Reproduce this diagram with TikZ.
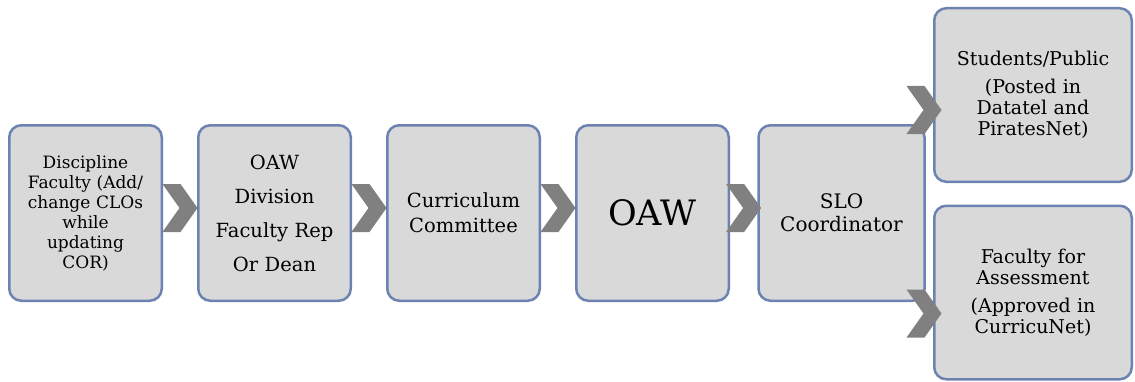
\documentclass[tikz,border=0pt]{standalone}
\usepackage{fontspec}
\setmainfont{DejaVu Serif}
\usetikzlibrary{positioning,decorations.markings}
\definecolor{boxfill}{RGB}{217,217,217}
\definecolor{boxline}{RGB}{108,131,178}
\definecolor{chevgray}{RGB}{128,128,128}
\tikzset{chevron/.style={decoration={
  markings,
  mark= at position #1 with {\fill[chevgray] (-17.5pt,24pt) -- (0.5pt,24pt) -- (17.5pt,0pt) -- (0.5pt,-24pt) -- (-17.5pt,-24pt) -- (-0.5pt,0pt) -- cycle;}},postaction={decorate}}
}

\begin{document}
\begin{tikzpicture}[
    x=1pt,
    y=1pt,
    node distance=189pt,
    step node/.style={rectangle,rounded corners=12pt,draw=boxline,line width=2.5pt,fill=boxfill,minimum width=152.5pt,minimum height=175.5pt,text width=150pt,align=center,inner sep=0pt,font=\fontsize{17}{20}\selectfont},
    end node/.style={step node,minimum width=197.5pt,minimum height=173.5pt,text width=190pt,font=\fontsize{19}{21}\selectfont}]

  \useasboundingbox (0,0) rectangle (1135,381);

  \node[step node] (Discipline) at (85.5,168) {Discipline\\Faculty (Add/\\change CLOs\\while\\updating\\COR)};
  \node[step node,font=\fontsize{19.5}{34}\selectfont] (Division) [right of=Discipline] {OAW\\Division\\Faculty Rep\\Or Dean};
  \node[step node,font=\fontsize{19.5}{25}\selectfont] (Committee) [right of=Division] {Curriculum\\Committee};
  \node[step node,font=\fontsize{35}{40}\selectfont] (OAW) [right of=Committee] {OAW};
  \node[step node,minimum width=166pt,font=\fontsize{20}{23}\selectfont] (SLO) [right of=OAW] {SLO\\Coordinator};
  \node[end node] (Students) [right of=SLO,xshift=2.5pt,yshift=118pt] {Students/Public\\[7pt](Posted in\\Datatel and\\PiratesNet)};
  \node[end node] (Assessment) [right of=SLO,xshift=2.5pt,yshift=-79.5pt] {Faculty for\\Assessment\\[7pt](Approved in\\CurricuNet)};

  \coordinate (toStudents) at ([xshift=-9pt,yshift=-15pt]Students.west);
  \coordinate (toAssessment) at ([xshift=-9pt,yshift=-21pt]Assessment.west);

  \path[chevron=.5] ([yshift=5pt]Discipline.east) -- ([yshift=5pt]Division.west);
  \path[chevron=.5] ([yshift=5pt]Division.east) -- ([yshift=5pt]Committee.west);
  \path[chevron=.5] ([yshift=5pt]Committee.east) -- ([yshift=5pt]OAW.west);
  \path[chevron=.5] ([yshift=5pt]OAW.east) -- ([yshift=5pt]SLO.west);
  \path[chevron=1] (SLO.center |- toStudents) -- (toStudents);
  \path[chevron=1] (SLO.center |- toAssessment) -- (toAssessment);
\end{tikzpicture}
\end{document}
